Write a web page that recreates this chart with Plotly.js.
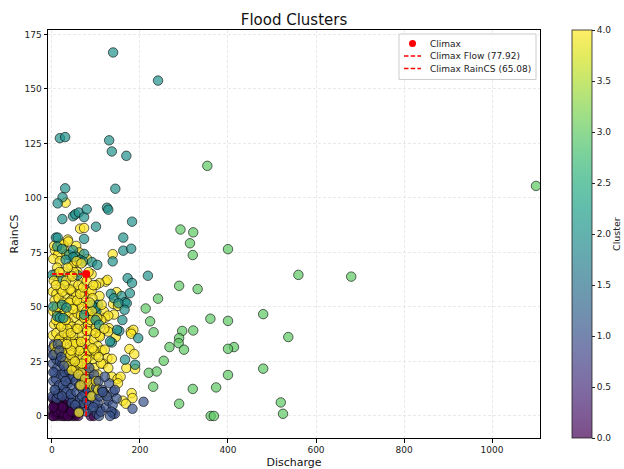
<!DOCTYPE html>
<html>
<head>
<meta charset="utf-8">
<script src="https://cdn.plot.ly/plotly-3.0.1.min.js"></script>
<style>html,body{margin:0;padding:0;background:#fff}#chart{width:624px;height:469px}</style>
</head>
<body>
<div id="chart"></div>
<script>
// Cluster 0 (purple): [Discharge, RainCS]
var cluster0 = [[1,0],[3,2],[5,5],[7,1],[9,3],[11,0],[13,6],[15,2],[17,4],[19,0],[21,7],[23,1],[25,3],[27,5],[29,0],[31,2],[33,6],[35,1],[37,4],[39,0],[41,3],[43,5],[45,1],[47,0],[49,2],[51,4],[53,0],[55,1],[57,3],[60,0],[88,0],[95,0],[2,8],[6,4],[10,6],[14,1],[18,3],[22,5],[26,0],[30,4],[34,2],[38,7],[42,1],[46,3],[4,0],[12,2],[20,2],[28,1],[36,0],[44,2],[8,7],[16,5],[24,4],[32,8],[3,4],[12,9]];
// Cluster 1 (blue)
var cluster1 = [[1,31],[4,28],[2,24],[6,20],[3,16],[8,12],[1,9],[5,33],[10,26],[12,22],[9,17],[14,29],[16,14],[11,8],[18,25],[20,19],[15,10],[22,30],[24,24],[26,18],[28,12],[32,27],[34,21],[36,15],[38,9],[42,25],[44,19],[46,13],[48,8],[25,14],[29,20],[33,11],[37,24],[41,17],[45,6],[23,9],[31,16],[39,21],[43,10],[49,18],[52,22],[54,16],[56,11],[58,6],[60,19],[62,14],[64,8],[66,3],[68,17],[70,12],[72,6],[74,21],[76,10],[78,2],[53,5],[57,24],[61,2],[65,23],[69,9],[73,15],[77,18],[79,7],[82,12],[84,5],[86,17],[88,9],[90,14],[92,3],[94,10],[96,19],[98,6],[100,13],[102,1],[104,6],[106,16],[108,9],[110,3],[85,22],[107,0],[111,2],[114,12],[117,11],[123,4],[128,7],[138,5],[139,11],[143,12],[139,1],[143,1],[130,15],[125,9],[135,2],[120,18],[147,8],[132,0],[115,11],[94,4],[183,3.3],[208,6.5],[2,28],[3,20],[6,12],[13,33],[17,30],[21,27],[27,23]];
// Cluster 2 (teal)
var cluster2 = [[139,166.7],[241,153.8],[18,127.4],[30,127.9],[130,126.4],[136,121.3],[169,119.3],[30,104.4],[144,104.2],[24,100.3],[13,97.5],[23.5,90.3],[48,91.6],[53,92.5],[61,93.3],[73,91.2],[79,94.8],[125,95.5],[128,94.6],[100,86.8],[182,89.1],[9,81.8],[13,81.8],[73,81.2],[162,81.8],[12,77.7],[23,76.6],[39,73.9],[48,76],[54,73.1],[48,72.8],[73,74.3],[31,71.6],[64,71.6],[71,70.8],[91,70.6],[103,69.3],[138,70.9],[162,75.8],[180,76.7],[1,64.7],[23,62.4],[58,64.6],[172,63.2],[182,61],[218,64.3],[134,56],[141,54],[158,55],[166,52.2],[177,56.3],[170,51.7],[151,51.7],[165,48.7],[160,44],[153,39],[196,35.7],[136,33.7],[132,34.2],[166,25.8],[189,23.5],[105,51],[101,48],[98,49.5],[90,51],[99,44],[107,41.8],[148,39.5],[12,45.6],[3,50.2],[18,45.1],[26,44.9],[23,51],[33,49.7],[73,46.4]];
// Cluster 3 (green)
var cluster3 = [[1100,105.5],[680,63.9],[560,64.7],[400,76.5],[480,46.7],[537,36.2],[413.6,31.6],[400,30.8],[400,43.6],[360,44.6],[480,21.7],[400,18.8],[373,13.1],[360.7,0],[368,0],[520,6.2],[525,1],[292,85.5],[321,84.2],[313.6,79.2],[320,73.8],[289,59.7],[331,58.2],[241,53.8],[213,49.3],[223,43.4],[231,38.4],[296,39],[321,39.2],[289,35.7],[288,33.4],[300,30.4],[267,31.6],[254,25.3],[220,19.8],[238,20.4],[230,13.4],[289,5.6],[320,12.4],[353,114.7]];
// Cluster 4 (yellow)
var cluster4 = [[31,97.8],[64,85.9],[73,86.2],[36,80.9],[7,75.8],[26,78.4],[51.5,73.4],[138,74.2],[5,78],[20,79],[37,80],[28,76],[55,78],[14,74],[3,72],[18,71],[33,74],[52,70],[62,75],[12,68],[44,69],[80,72],[8,65],[25,66],[40,64],[58,66],[70,63],[90,65],[122,61.6],[126,62.4],[107.5,60.9],[15,62],[48,61],[2,57],[10,56],[20,58],[30,55],[38,58],[47,57],[55,55],[65,58],[75,56],[85,57],[100,60],[90,57.4],[147,56.8],[108,55],[6,53],[15,54],[26,52],[34,51],[44,53],[53,50],[62,52],[72,53],[82,51],[92,54],[139,51.4],[150,50.5],[118,48],[121,45],[141,46.5],[128,46],[3,48],[12,47],[22,46],[30,48],[40,47],[50,45],[58,47],[66,46],[76,44],[86,47],[95,45],[112,44],[5,42],[16,42],[27,41],[37,43],[46,41],[55,40],[63,42],[72,40],[82,42],[90,39],[100,41],[108,37],[129.5,40.3],[179,38.7],[185,39.5],[180,37.7],[2,37],[10,38],[19,36],[28,35],[36,37],[44,35],[52,36],[60,34],[68,37],[78,35],[86,33],[95,35],[104,32],[113,30],[120,30.4],[128,38.7],[109,36.4],[145,36.2],[6,32],[14,31],[24,30],[33,29],[41,31],[50,29],[57,28],[65,31],[74,29],[83,27],[92,26],[100,28],[126,26.5],[136,26.2],[176,30.7],[187,28.4],[116,24],[30,25],[38,23],[47,26],[55,22],[63,24],[71,21],[80,23],[88,20],[96,22],[104,19],[112,24],[128,22],[169,22],[189,21.5],[136,18],[149,17],[156,18],[45,21],[60,19],[75,17],[85,15],[95,13],[100,16],[111,10.5],[120,9.9],[181,10.5],[183,8.2],[161,7],[168,5.6],[90,9],[61,1.5],[65,14],[105,12],[150,15],[4,62],[9,44],[18,50],[24,57],[32,62],[42,58],[50,66],[60,60],[68,50],[78,48],[88,44],[98,50],[16,35],[35,40],[54,33],[70,27],[84,30],[96,30],[42,28],[62,30],[8,29],[20,33],[27,38],[43,38],[49,33],[58,40],[66,34],[73,45],[80,39],[91,48],[99,38],[103,45],[11,50],[21,41],[31,44],[39,52],[48,49],[57,53],[64,56],[71,59],[79,62],[86,52],[94,60],[36,68],[46,64],[56,71],[28,60],[17,66],[9,60],[83,66],[67,70],[113,51],[119,40],[106,27],[92,31],[78,26],[68,24],[52,25],[44,30],[34,33]];
var climaxFlow = 77.92;
var climaxRain = 65.08;
var xTicks = [0,200,400,600,800,1000];
var yTicks = [0,25,50,75,100,125,150,175];
var cbTicks = [0,0.5,1,1.5,2,2.5,3,3.5,4];
var legendLabels = ['Climax', 'Climax Flow (' + climaxFlow.toFixed(2) + ')', 'Climax RainCS (' + climaxRain.toFixed(2) + ')'];

// purple drawn first, the other clusters interleaved evenly (like an unsorted data order)
var xs = [], ys = [], cs = [];
cluster0.forEach(function(p){ xs.push(p[0]); ys.push(p[1]); cs.push(0); });
var mixed = [];
[[cluster1,1],[cluster2,2],[cluster3,3],[cluster4,4]].forEach(function(d){
  var n = d[0].length;
  d[0].forEach(function(p,i){ mixed.push({x:p[0], y:p[1], c:d[1], k:(i+0.5)/n}); });
});
mixed.sort(function(a,b){ return a.k - b.k || a.c - b.c; });
mixed.forEach(function(m){ xs.push(m.x); ys.push(m.y); cs.push(m.c); });

var a = 0.7;
var vir = ['#440154','#48186a','#472d7b','#424086','#3b528b','#33638d','#2c728e','#26828e','#21918c','#1fa088','#28ae80','#3fbc73','#5ec962','#84d44b','#addc30','#d8e219','#fde725'];
function rgba(h){return 'rgba('+parseInt(h.substr(1,2),16)+','+parseInt(h.substr(3,2),16)+','+parseInt(h.substr(5,2),16)+','+a+')';}
var cscale = vir.map(function(h,i){return [i/(vir.length-1), rgba(h)];});

var redDash = {color:'red', width:1.5, dash:'4.5px,2.2px'};
var traces = [
  {type:'scatter', mode:'markers', x:xs, y:ys, showlegend:false, hoverinfo:'x+y',
   marker:{size:9.5, color:cs, colorscale:cscale, cmin:0, cmax:4,
     line:{color:'rgba(0,0,0,0.75)', width:0.8},
     colorbar:{x:1.065, xanchor:'left', xref:'paper', y:0.5, yanchor:'middle', len:1, lenmode:'fraction', thickness:20, ypad:0, xpad:0,
       outlinewidth:0.8, outlinecolor:'#222', tickvals:cbTicks, tickformat:'.1f', ticks:'outside', ticklen:3, tickcolor:'#222',
       tickfont:{family:'DejaVu Sans', size:9, color:'#222'}}}},
  {type:'scatter', mode:'lines', x:[climaxFlow, climaxFlow], y:[0, climaxRain], name:legendLabels[1], showlegend:false, line:redDash},
  {type:'scatter', mode:'lines', x:[0, climaxFlow], y:[climaxRain, climaxRain], name:legendLabels[2], showlegend:false, line:redDash},
  {type:'scatter', mode:'markers', x:[climaxFlow], y:[climaxRain], name:legendLabels[0], showlegend:false, marker:{color:'red', size:8}}
];

// pixel helpers for the hand-made legend (plot area: 48..540 x 30..438)
function px(p){return (p-48)/492;}
function py(p){return (438-p)/408;}
var rows = [43.5, 56, 68.5];
var shapes = [
  {type:'line', xref:'x', yref:'y', x0:climaxFlow, x1:climaxFlow, y0:0, y1:climaxRain, line:redDash, layer:'above'},
  {type:'line', xref:'x', yref:'y', x0:0, x1:climaxFlow, y0:climaxRain, y1:climaxRain, line:redDash, layer:'above'},
  {type:'rect', xref:'paper', yref:'paper', x0:px(399), x1:px(536), y0:py(79.5), y1:py(34), line:{color:'#cccccc', width:1}, fillcolor:'rgba(255,255,255,0.85)', layer:'above'},
  {type:'circle', xref:'paper', yref:'paper', x0:px(409), x1:px(416), y0:py(rows[0]+3.5), y1:py(rows[0]-3.5), line:{color:'red', width:0}, fillcolor:'red', layer:'above'},
  {type:'line', xref:'paper', yref:'paper', x0:px(404), x1:px(421), y0:py(rows[1]), y1:py(rows[1]), line:redDash, layer:'above'},
  {type:'line', xref:'paper', yref:'paper', x0:px(404), x1:px(421), y0:py(rows[2]), y1:py(rows[2]), line:redDash, layer:'above'}
];
var legFont = {family:'DejaVu Sans', size:9, color:'#222'};
var annotations = legendLabels.map(function(t,i){
  return {xref:'paper', yref:'paper', x:px(428), y:py(rows[i]), xanchor:'left', yanchor:'middle', text:t, showarrow:false, font:legFont};
});
annotations.push({xref:'paper', yref:'paper', x:px(616), y:0.5, xanchor:'center', yanchor:'middle', text:'Cluster', textangle:-90, showarrow:false, font:{family:'DejaVu Sans', size:9.5, color:'#222'}});

var axFont = {family:'DejaVu Sans', size:9, color:'#222'};
var layout = {
  width:624, height:469,
  margin:{l:48, r:84, t:30, b:31},
  paper_bgcolor:'#fff', plot_bgcolor:'#fff',
  font:{family:'DejaVu Sans', color:'#222'},
  showlegend:false,
  title:{text:'Flood Clusters', x:0.5, xref:'paper', xanchor:'center', y:1-19.5/469, yref:'container', yanchor:'middle', font:{family:'DejaVu Sans', size:15, color:'#111'}},
  xaxis:{range:[-9,1109], tickvals:xTicks, showgrid:true, gridcolor:'#e3e3e3', griddash:'3px,2px', gridwidth:0.8, zeroline:false,
    showline:true, linecolor:'#000', linewidth:1, mirror:true, ticks:'outside', ticklen:3.5, tickcolor:'#000', tickfont:axFont,
    title:{text:'Discharge', font:{family:'DejaVu Sans', size:11, color:'#111'}, standoff:4}, automargin:false},
  yaxis:{range:[-10.1,177], tickvals:yTicks, showgrid:true, gridcolor:'#e3e3e3', griddash:'3px,2px', gridwidth:0.8, zeroline:false,
    showline:true, linecolor:'#000', linewidth:1, mirror:true, ticks:'outside', ticklen:3.5, tickcolor:'#000', tickfont:axFont,
    title:{text:'RainCS', font:{family:'DejaVu Sans', size:11, color:'#111'}, standoff:3}, automargin:false},
  shapes:shapes,
  annotations:annotations
};
Plotly.newPlot('chart', traces, layout, {displayModeBar:false, staticPlot:true});
</script>
</body>
</html>
